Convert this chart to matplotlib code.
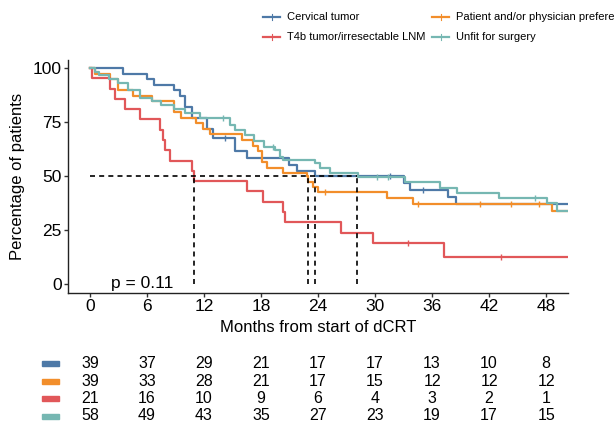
import numpy as np
import matplotlib
matplotlib.use('Agg')
import matplotlib.pyplot as plt
import matplotlib.transforms as mtrans
from matplotlib.lines import Line2D
from matplotlib.patches import Rectangle

plt.rcParams['font.family'] = ['Liberation Sans', 'DejaVu Sans']

# group names and colours (tableau palette)
GROUPS = ['Cervical tumor', 'Patient and/or physician preference',
          'T4b tumor/irresectable LNM', 'Unfit for surgery']
COLORS = ['#4E79A7', '#F28E2B', '#E15759', '#76B7B2']

# Kaplan-Meier step curves (months, % surviving)
t_cerv = [0, 3.5, 6.0, 6.7, 8.8, 9.5, 10.0, 10.7, 12.3, 13.0, 15.3, 16.5, 21.0, 21.8, 23.7, 33.0, 33.7, 37.7, 38.5, 50.3]
s_cerv = [100, 97.4, 94.9, 92.3, 89.7, 87.2, 82.1, 76.9, 71.8, 67.6, 61.5, 58.1, 55.3, 52.5, 50.0, 46.7, 43.6, 40.3, 37.0, 37.0]
c_cerv = [14.2, 31.6, 35.0]

t_pref = [0, 0.5, 2.1, 3.0, 4.5, 6.5, 8.8, 9.6, 11.2, 11.9, 12.6, 16.0, 17.2, 17.7, 18.1, 18.6, 20.3, 22.8, 23.0, 23.5, 24.0, 31.3, 34.0, 48.6, 50.3]
s_pref = [100, 97.4, 94.9, 89.7, 87.2, 84.6, 79.5, 76.9, 74.4, 71.8, 69.2, 66.7, 64.1, 61.5, 56.4, 53.8, 51.3, 50.0, 47.4, 44.7, 42.7, 40.0, 37.0, 33.8, 33.8]
c_pref = [24.7, 34.5, 41.0, 44.3, 47.2]

t_t4b = [0, 0.2, 2.1, 2.6, 3.7, 5.3, 7.4, 7.7, 7.9, 8.4, 10.7, 10.95, 16.5, 18.2, 20.3, 20.5, 26.4, 29.8, 37.3, 50.3]
s_t4b = [100, 95.2, 90.5, 85.7, 81.0, 76.2, 71.4, 66.7, 61.9, 57.1, 52.4, 47.6, 42.9, 38.1, 33.3, 28.6, 23.8, 19.0, 12.7, 12.7]
c_t4b = [33.5, 43.3]

t_unfit = [0, 0.5, 1.0, 2.0, 3.0, 4.0, 5.3, 6.5, 7.5, 8.8, 10.0, 11.6, 14.7, 15.3, 16.3, 17.3, 18.3, 19.5, 20.0, 20.3, 23.7, 24.2, 25.3, 28.2, 33.2, 36.8, 38.6, 43.0, 48.1, 49.1, 50.3]
s_unfit = [100, 98.3, 96.6, 94.8, 93.1, 89.7, 86.2, 84.5, 82.8, 81.0, 79.3, 76.8, 73.6, 71.4, 69.0, 66.0, 63.6, 62.0, 59.0, 57.4, 55.8, 53.7, 51.4, 49.7, 47.0, 44.4, 42.2, 39.8, 37.5, 33.8, 33.8]
c_unfit = [14.0, 19.3, 30.2, 31.4, 46.8]

# median survival times per group
medians = [23.7, 23.0, 10.95, 28.1]

# numbers at risk
risk_times = [0, 6, 12, 18, 24, 30, 36, 42, 48]
risk_cerv = [39, 37, 29, 21, 17, 17, 13, 10, 8]
risk_pref = [39, 33, 28, 21, 17, 15, 12, 12, 12]
risk_t4b = [21, 16, 10, 9, 6, 4, 3, 2, 1]
risk_unfit = [58, 49, 43, 35, 27, 23, 19, 17, 15]

curves = [(t_cerv, s_cerv, c_cerv), (t_pref, s_pref, c_pref),
          (t_t4b, s_t4b, c_t4b), (t_unfit, s_unfit, c_unfit)]
risk = [risk_cerv, risk_pref, risk_t4b, risk_unfit]

W, H = 615, 422
fig = plt.figure(figsize=(W / 100, H / 100), dpi=100)
ax = fig.add_axes([68 / W, 1 - 293 / H, 500 / W, 233 / H])

for (t, s, cens), col in zip(curves, COLORS):
    ax.step(t, s, where='post', color=col, lw=1.6, zorder=3)
    idx = np.searchsorted(t, cens, side='right') - 1
    ax.plot(cens, np.array(s)[idx], ls='none', marker='|', ms=5, mew=1.0, color=col, zorder=3)

# median lines
ax.plot([0, max(medians)], [50, 50], ls=(0, (3, 2.5)), color='black', lw=1.2, zorder=4)
for m in medians:
    ax.plot([m, m], [0, 50], ls=(0, (3, 2.5)), color='black', lw=1.2, zorder=4)

ax.text(2.2, 0, 'p = 0.11', fontsize=12.5, ha='left', va='center')

ax.set_xlim(-2.3, 50.3)
ax.set_ylim(-4.2, 103.7)
ax.set_xticks(risk_times)
ax.set_yticks([0, 25, 50, 75, 100])
ax.tick_params(labelsize=12.5, length=3, width=1, pad=1.5, color='#333333', labelcolor='black')
for side in ['top', 'right']:
    ax.spines[side].set_visible(False)
for side in ['left', 'bottom']:
    ax.spines[side].set_linewidth(1.0)
    ax.spines[side].set_color('#222222')

fig.text(318 / W, 1 - 327 / H, 'Months from start of dCRT', fontsize=12, ha='center', va='center')
fig.text(18 / W, 1 - 176 / H, 'Percentage of patients', fontsize=12, ha='center', va='center', rotation=90)

# legend on top
leg_pos = [(263, 17), (432, 17), (263, 37), (432, 37)]
for (lx, ly), name, col in zip(leg_pos, GROUPS, COLORS):
    yf = 1 - ly / H
    fig.add_artist(Line2D([lx / W, (lx + 17) / W], [yf, yf], color=col, lw=1.6))
    fig.add_artist(Line2D([(lx + 8.5) / W] * 2, [yf - 3 / H, yf + 3 / H], color=col, lw=0.8))
    fig.text((lx + 24) / W, yf, name, fontsize=8, ha='left', va='center')

# risk table
tr = mtrans.blended_transform_factory(ax.transData, fig.transFigure)
row_y = [363.5, 381, 398.5, 416]
for ry, counts, col in zip(row_y, risk, COLORS):
    yf = 1 - ry / H
    fig.add_artist(Rectangle((42 / W, yf - 2.5 / H), 17 / W, 5 / H, color=col, transform=fig.transFigure))
    for x, n in zip(risk_times, counts):
        ax.text(x, yf, str(n), transform=tr, fontsize=11.5, ha='center', va='center', clip_on=False)

fig.savefig('out.png', dpi=100)
